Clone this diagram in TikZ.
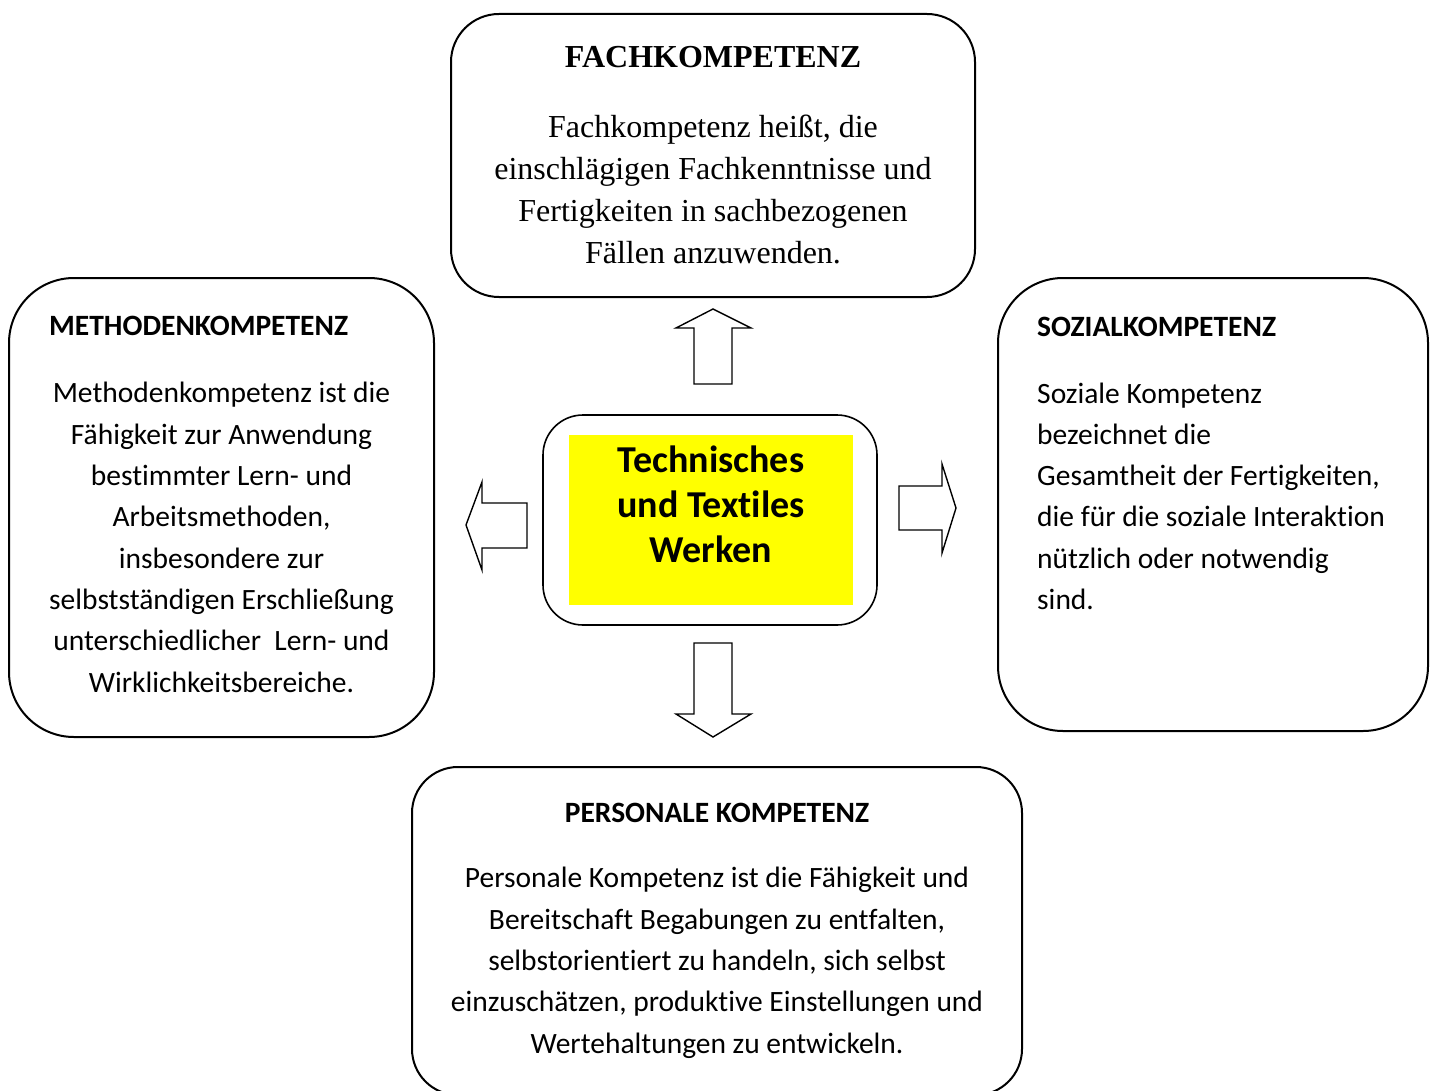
\documentclass[tikz,border=0pt]{standalone}
\usepackage{fontspec}
\setmainfont{Carlito}[Ligatures={NoCommon,NoRequired,NoContextual}]
\newfontfamily\timesfont{Liberation Serif}
\definecolor{hlyellow}{RGB}{255,255,0}
\begin{document}
\begin{tikzpicture}[x=1pt,y=-1pt,
  box/.style={draw=black,line width=2pt,fill=white,rectangle,inner sep=0pt},
  blockarrow/.style={draw=black,line width=1.4pt,fill=white,line join=miter},
  bodytext/.style={font=\fontsize{29.5}{41.3}\selectfont,inner sep=0pt,anchor=base},
  titletext/.style={font=\fontsize{29.5}{32}\selectfont\bfseries,inner sep=0pt,anchor=base},
  sertext/.style={font=\timesfont\fontsize{32}{42}\selectfont,inner sep=0pt,anchor=base,align=center},
  centertext/.style={font=\fontsize{38}{45}\selectfont\bfseries,inner sep=0pt,anchor=base,align=center}]
\useasboundingbox (0,0) rectangle (1434,1091);
\clip (0,0) rectangle (1434,1091);
\fill[white] (0,0) rectangle (1434,1091);

% boxes
\node[box,rounded corners=48pt,minimum width=524pt,minimum height=283pt] (fach) at (713,155.5) {};
\node[box,rounded corners=65pt,minimum width=425pt,minimum height=459pt] (meth) at (221.5,507.5) {};
\node[box,rounded corners=65pt,minimum width=430pt,minimum height=453pt] (sozial) at (1213,504.5) {};
\node[box,rounded corners=46pt,minimum width=610pt,minimum height=328pt] (pers) at (717,931) {};
\node[box,line width=1.6pt,rounded corners=40pt,minimum width=334pt,minimum height=210pt] (center) at (710,520) {};
\node[fill=hlyellow,inner sep=0pt,minimum width=284pt,minimum height=170pt] (yellow) at (711,520) {};

% block arrows
\draw[blockarrow] (694,384) -- (694,328) -- (676,328) -- (713,309) -- (751,328) -- (732,328) -- (732,384) -- cycle;
\draw[blockarrow] (694,643) -- (694,714) -- (676,714) -- (713,737) -- (751,714) -- (732,714) -- (732,643) -- cycle;
\draw[blockarrow] (527,503) -- (482,503) -- (482,482) -- (466,525) -- (482,570) -- (482,548) -- (527,548) -- cycle;
\draw[blockarrow] (899,486) -- (942,486) -- (942,464) -- (956,508) -- (942,553) -- (942,530) -- (899,530) -- cycle;

% center text (anchor = baseline of last line)
\node[centertext] (ctext) at (711,562) {Technisches\\und Textiles\\Werken};

% Fachkompetenz
\node[font=\timesfont\fontsize{32}{34}\selectfont\bfseries,inner sep=0pt,anchor=base] (fachtitle) at (713,68) {FACHKOMPETENZ};
\node[sertext] (fachbody) at (713,263) {Fachkompetenz heißt, die\\einschlägigen Fachkenntnisse und\\Fertigkeiten in sachbezogenen\\Fällen anzuwenden.};

% Methodenkompetenz
\node[titletext,anchor=base west] (methtitle) at (49,335) {METHODENKOMPETENZ};
\node[bodytext,align=center] (methbody) at (221.5,692) {Methodenkompetenz ist die\\Fähigkeit zur Anwendung\\bestimmter Lern- und\\Arbeitsmethoden,\\insbesondere zur\\selbstständigen Erschließung\\unterschiedlicher\ \ Lern- und\\Wirklichkeitsbereiche.};

% Sozialkompetenz
\node[titletext,anchor=base west] (soztitle) at (1037,336) {SOZIALKOMPETENZ};
\node[bodytext,align=left,anchor=base west] (sozbody) at (1037,609.5) {Soziale Kompetenz\\bezeichnet die\\Gesamtheit der Fertigkeiten,\\die für die soziale Interaktion\\nützlich oder notwendig\\sind.};

% Personale Kompetenz
\node[titletext] (perstitle) at (717,822) {PERSONALE KOMPETENZ};
\node[bodytext,align=center] (persbody) at (717,1053) {Personale Kompetenz ist die Fähigkeit und\\Bereitschaft Begabungen zu entfalten,\\selbstorientiert zu handeln, sich selbst\\einzuschätzen, produktive Einstellungen und\\Wertehaltungen zu entwickeln.};
\end{tikzpicture}
\end{document}
